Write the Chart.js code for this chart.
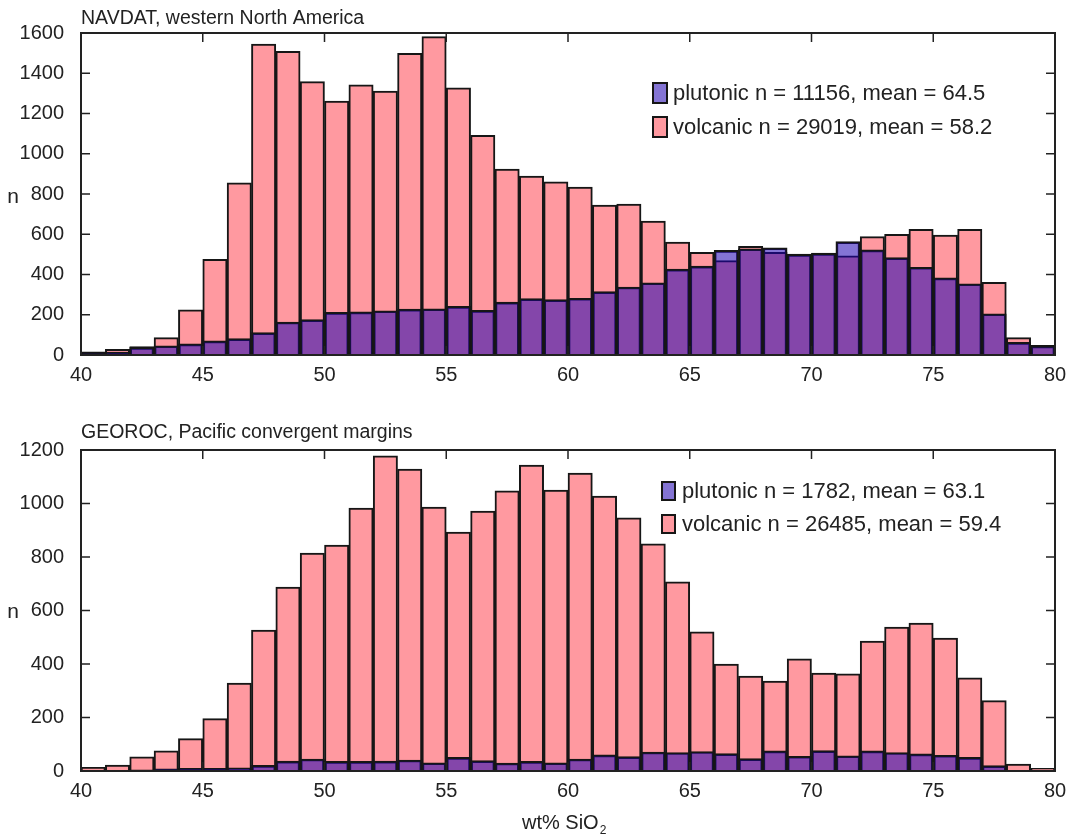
<!DOCTYPE html>
<html><head><meta charset="utf-8">
<script src="https://cdn.jsdelivr.net/npm/chart.js@4.4.1/dist/chart.umd.min.js"></script>
<style>
html,body{margin:0;padding:0;background:#fff;}
#wrap{position:relative;width:1073px;height:837px;overflow:hidden;}
canvas{position:absolute;left:0;}
#c1{top:0}
#c2{top:410px}
</style></head><body>
<div id="wrap"><canvas id="c1" width="1073" height="410"></canvas><canvas id="c2" width="1073" height="427"></canvas></div>
<script>
// ---- data ----
const binCenters = [40.5,41.5,42.5,43.5,44.5,45.5,46.5,47.5,48.5,49.5,
                    50.5,51.5,52.5,53.5,54.5,55.5,56.5,57.5,58.5,59.5,
                    60.5,61.5,62.5,63.5,64.5,65.5,66.5,67.5,68.5,69.5,
                    70.5,71.5,72.5,73.5,74.5,75.5,76.5,77.5,78.5,79.5];
const xTicks = [40,45,50,55,60,65,70,75,80];
const navYTicks = [0,200,400,600,800,1000,1200,1400,1600];
const geoYTicks = [0,200,400,600,800,1000,1200];

const navVolcanic = [16,28,42,86,224,476,855,1545,1509,1358,
                     1262,1342,1312,1499,1582,1328,1092,924,889,860,
                     835,745,750,666,561,510,469,540,510,502,
                     507,493,588,600,624,596,624,361,86,48];
const navPlutonic = [10,14,38,46,55,70,81,111,164,176,
                     212,214,220,228,230,242,222,263,280,275,
                     282,315,338,359,427,442,520,528,533,500,
                     505,563,522,484,436,383,354,205,63,45];
const geoVolcanic = [14,22,53,75,121,196,329,527,688,815,
                     845,983,1178,1129,987,893,972,1047,1144,1050,
                     1114,1028,946,849,707,520,400,355,336,419,
                     366,363,486,538,553,497,348,263,26,10];
const geoPlutonic = [1,1,4,8,10,10,12,21,37,45,
                     36,36,37,41,31,51,39,30,36,31,
                     45,60,54,71,69,73,65,46,75,55,
                     76,57,75,69,64,59,51,20,2,0];

const navTitle = 'NAVDAT, western North America';
const geoTitle = 'GEOROC, Pacific convergent margins';
const navLegend = ['plutonic n = 11156, mean = 64.5', 'volcanic n = 29019, mean = 58.2'];
const geoLegend = ['plutonic n = 1782, mean = 63.1', 'volcanic n = 26485, mean = 59.4'];
const yLabel = 'n';
const xLabelMain = 'wt% SiO';
const xLabelSub = '2';

// ---- styles ----
const FONT = '"Liberation Sans", Arial, Helvetica, sans-serif';
const PINK = 'rgb(255,153,160)';
const PLUT = 'rgba(31,2,178,0.55)';
const PLUT_SWATCH = 'rgb(132,116,212)';
const EDGE = '#161616';
const AXIS = '#222';

function toPts(vals){ return binCenters.map((x,i)=>({x:x, y:vals[i]})); }

function panelPlugin(p){
  return {
    id: 'panel_' + p.key,
    afterDraw(chart){
      const {ctx, chartArea:a, scales:{x, y}} = chart;
      ctx.save();
      ctx.strokeStyle = AXIS;
      ctx.lineWidth = 1.5;
      ctx.beginPath();
      x.ticks.forEach(t=>{
        const px = x.getPixelForValue(t.value);
        ctx.moveTo(px, a.bottom); ctx.lineTo(px, a.bottom - 9);
        ctx.moveTo(px, a.top); ctx.lineTo(px, a.top + 9);
      });
      y.ticks.forEach(t=>{
        const py = y.getPixelForValue(t.value);
        ctx.moveTo(a.left, py); ctx.lineTo(a.left + 9, py);
        ctx.moveTo(a.right, py); ctx.lineTo(a.right - 9, py);
      });
      ctx.stroke();
      ctx.lineWidth = 2;
      ctx.strokeRect(a.left, a.top, a.right - a.left, a.bottom - a.top);

      ctx.fillStyle = AXIS;
      ctx.textBaseline = 'alphabetic';
      ctx.textAlign = 'left';
      ctx.font = '19.5px ' + FONT;
      ctx.fillText(p.title, a.left, p.titleY);

      ctx.textAlign = 'center';
      ctx.font = '21px ' + FONT;
      ctx.fillText(yLabel, 13, p.nY);

      // legend
      const L = p.legend;
      const fills = [PLUT_SWATCH, PINK];
      ctx.textAlign = 'left';
      ctx.textBaseline = 'middle';
      ctx.font = '22px ' + FONT;
      p.labels.forEach((txt,i)=>{
        const by = L.y0 + i*L.dy;
        ctx.fillStyle = fills[i];
        ctx.fillRect(L.x, by, L.w, L.h);
        ctx.lineWidth = 2;
        ctx.strokeStyle = EDGE;
        ctx.strokeRect(L.x, by, L.w, L.h);
        ctx.fillStyle = AXIS;
        ctx.fillText(txt, L.tx, by + L.h/2 + 1);
      });

      if (p.xlabel){
        ctx.textBaseline = 'alphabetic';
        ctx.textAlign = 'left';
        ctx.font = '20px ' + FONT;
        const w = ctx.measureText(xLabelMain).width;
        const x0 = 522;
        ctx.fillText(xLabelMain, x0, p.xlabelY);
        ctx.font = '12px ' + FONT;
        ctx.fillText(xLabelSub, x0 + w + 1, p.xlabelY + 5);
      }
      ctx.restore();
    }
  };
}

function makeChart(id, plut, volc, yTicks, yMax, padTop, padBottom, p){
  return new Chart(document.getElementById(id), {
    type: 'bar',
    data: {
      datasets: [
        {label:'plutonic', data: toPts(plut), backgroundColor: PLUT, borderColor: EDGE, borderWidth: 2,
         barPercentage:1, categoryPercentage:1, grouped:false},
        {label:'volcanic', data: toPts(volc), backgroundColor: PINK, borderColor: EDGE, borderWidth: 2,
         barPercentage:1, categoryPercentage:1, grouped:false}
      ]
    },
    options: {
      responsive:false, animation:false, devicePixelRatio:1,
      layout:{padding:{top:padTop, right:18, bottom:padBottom, left:0}},
      plugins:{legend:{display:false}, tooltip:{enabled:false}, title:{display:false}},
      scales:{
        x:{type:'linear', min:40, max:80, offset:false,
           grid:{display:false}, border:{display:false},
           afterBuildTicks: s => { s.ticks = xTicks.map(v=>({value:v})); },
           afterFit: s => { s.height = 30; },
           ticks:{font:{family:FONT, size:20}, color:AXIS, padding:0, maxRotation:0, autoSkip:false,
                  callback: v => String(v)}},
        y:{type:'linear', min:0, max:yMax,
           grid:{display:false}, border:{display:false},
           afterBuildTicks: s => { s.ticks = yTicks.map(v=>({value:v})); },
           afterFit: s => { s.width = 81; },
           ticks:{font:{family:FONT, size:20}, color:AXIS, padding:9, callback: v => String(v)}}
      }
    },
    plugins:[panelPlugin(p)]
  });
}

makeChart('c1', navPlutonic, navVolcanic, navYTicks, 1600, 33, 25, {
  key:'nav', title:navTitle, titleY:24, nY:203, labels:navLegend,
  legend:{x:653, y0:83, dy:34, w:14, h:20, tx:673}
});
makeChart('c2', geoPlutonic, geoVolcanic, geoYTicks, 1200, 40, 36, {
  key:'geo', title:geoTitle, titleY:28, nY:208, labels:geoLegend,
  legend:{x:662, y0:72, dy:33, w:13, h:18, tx:682},
  xlabel:true, xlabelY:419
});
</script>
</body></html>
